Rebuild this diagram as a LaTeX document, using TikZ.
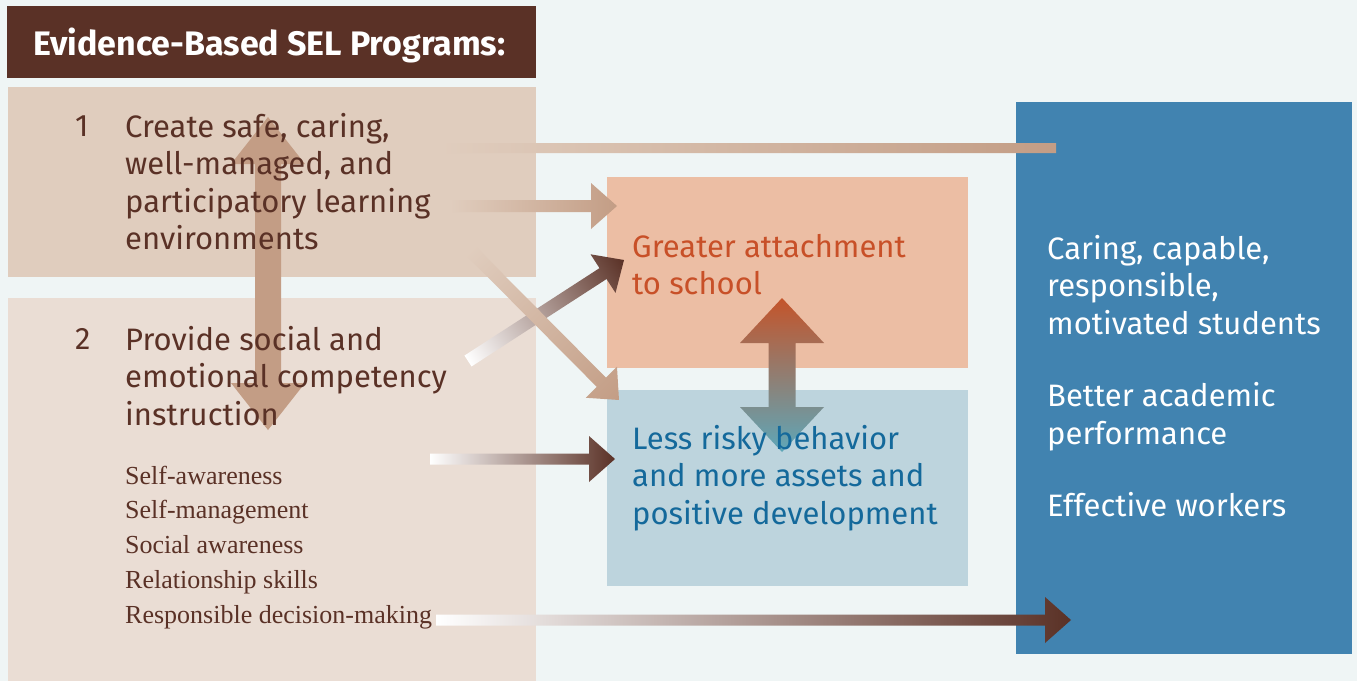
\documentclass[tikz,border=0pt]{standalone}
\usepackage{fontspec}
\setmainfont{Fira Sans}
\newfontfamily\listfont{Liberation Serif}
\usetikzlibrary{calc}

\definecolor{pagebg}{HTML}{EFF5F5}
\definecolor{selbrown}{HTML}{5A3126}
\definecolor{envfill}{HTML}{E0CDBE}
\definecolor{skillfill}{HTML}{EADDD4}
\definecolor{attachfill}{HTML}{ECBEA4}
\definecolor{attachtext}{HTML}{C85028}
\definecolor{behavefill}{HTML}{BDD4DD}
\definecolor{behavetext}{HTML}{14699B}
\definecolor{outfill}{HTML}{4183B0}
\definecolor{armtan}{HTML}{C39D85}
\definecolor{linkorange}{HTML}{C4542A}
\definecolor{linkteal}{HTML}{5EA7B9}

\newcommand\dinsize{\fontsize{31}{37.5}\selectfont}

% angle and length from #1 to #2
\newcommand\measure[2]{%
  \path let \p1=(#1), \p2=(#2) in
    \pgfextra{%
      \pgfmathsetmacro\fwang{atan2((\y2)-(\y1),(\x2)-(\x1))}%
      \pgfmathsetmacro\fwlen{veclen((\x2)-(\x1),(\y2)-(\y1))}%
      \xdef\fwang{\fwang}\xdef\fwlen{\fwlen}%
      \xdef\fwx{\x1}\xdef\fwy{\y1}};}

% tail, tip, tail colour, tip colour, shaft half width, head half width, head length
\newcommand\flowarrow[7]{%
  \measure{#1}{#2}
  \begin{scope}[transform canvas={shift={(\fwx,\fwy)},rotate=\fwang}]
    \shade[left color=#3,middle color=#4!80!#3,right color=#4]
      (0,-#5) -- ({\fwlen-#7},-#5) -- ({\fwlen-#7},-#6) -- (\fwlen,0)
      -- ({\fwlen-#7},#6) -- ({\fwlen-#7},#5) -- (0,#5) -- cycle;
  \end{scope}}

% one tip, other tip, colours, shaft half width, head half width, head length
\newcommand\twoway[7]{%
  \measure{#1}{#2}
  \begin{scope}[transform canvas={shift={(\fwx,\fwy)},rotate=\fwang}]
    \shade[left color=#3,right color=#4]
      (0,0) -- (#7,-#6) -- (#7,-#5) -- ({\fwlen-#7},-#5) -- ({\fwlen-#7},-#6)
      -- (\fwlen,0) -- ({\fwlen-#7},#6) -- ({\fwlen-#7},#5) -- (#7,#5)
      -- (#7,#6) -- cycle;
  \end{scope}}

\begin{document}
\begin{tikzpicture}[
x=1pt, y=-1pt,
panel/.style={inner sep=0pt, anchor=north west},
blurb/.style={font=\dinsize, inner sep=0pt, anchor=north west, align=left},
skill/.style={font=\listfont\fontsize{26}{30}\selectfont, text=selbrown,
  inner sep=0pt, anchor=base west}
]
\useasboundingbox (0,0) rectangle (1357,681);
\fill[pagebg] (0,0) rectangle (1357,681);

% panels
\node[panel, fill=selbrown, minimum width=529pt, minimum height=72pt] (title) at (7,6) {};
\node[panel, fill=envfill, minimum width=528pt, minimum height=190pt] (envbox) at (8,87) {};
\node[panel, fill=skillfill, minimum width=528pt, minimum height=383pt] (skillbox) at (8,298) {};
\node[panel, fill=attachfill, minimum width=361pt, minimum height=191pt] (attach) at (607,177) {};
\node[panel, fill=behavefill, minimum width=361pt, minimum height=196pt] (behave) at (607,390) {};
\node[panel, fill=outfill, minimum width=336pt, minimum height=552pt] (outcome) at (1016,102) {};

% two-way links
\coordinate (linkup) at (268,117);
\coordinate (linkdown) at (268,430);
\coordinate (schoolup) at (782,298);
\coordinate (schooldown) at (782,452);
\twoway{linkup}{linkdown}{armtan}{armtan}{13}{37}{47}
\twoway{schoolup}{schooldown}{linkorange}{linkteal}{13.5}{42}{45}

% texts
\node[anchor=base west, inner sep=0pt, text=white,
  font=\fontsize{34}{40}\selectfont\bfseries] (titletext) at (33,55)
  {Evidence-Based SEL Programs:};
\node[anchor=base west, inner sep=0pt, text=selbrown, font=\dinsize] (one) at (75,136) {1};
\node[blurb, text=selbrown] (envtext) at (125,113)
  {Create safe, caring,\\well-managed, and\\participatory learning\\environments};
\node[anchor=base west, inner sep=0pt, text=selbrown, font=\dinsize] (two) at (75,349) {2};
\node[blurb, text=selbrown] (skilltext) at (125,326)
  {Provide social and\\emotional competency\\instruction};
\foreach \skillname [count=\i] in {Self-awareness, Self-management,
    Social awareness, Relationship skills, Responsible decision-making}
  \node[skill] (skill\i) at (125,{484+34.75*(\i-1)}) {\skillname};
\node[blurb, text=attachtext] (attachtext) at (632,234)
  {Greater attachment\\to school};
\node[blurb, text=behavetext] (behavetext) at (632,425)
  {Less risky behavior\\and more assets and\\positive development};
\node[blurb, text=white] (outtext) at (1047,235)
  {Caring, capable,\\responsible,\\motivated students\\[35pt]Better academic\\performance\\[35pt]Effective workers};

% flows
\coordinate (envline) at (440,148);
\coordinate (outline) at (1056,148);
\coordinate (envtail) at (450,206);
\coordinate (attachtip) at (617,206);
\coordinate (envdiag) at (470,250);
\coordinate (behavetip) at (619,400);
\coordinate (skilldiag) at (468,361);
\coordinate (attachtip2) at (624,260);
\coordinate (skilltail) at (430,459);
\coordinate (behavetip2) at (615,459);
\coordinate (listtail) at (436,620);
\coordinate (outtip) at (1071,620);

\flowarrow{envline}{outline}{envfill}{armtan}{5}{5}{0}
\flowarrow{envtail}{attachtip}{envfill}{armtan}{6}{23}{26}
\flowarrow{skilldiag}{attachtip2}{white}{selbrown}{6.5}{23}{25}
\flowarrow{envdiag}{behavetip}{envfill}{armtan}{6.5}{22}{25}
\flowarrow{skilltail}{behavetip2}{white}{selbrown}{5.5}{23}{26}
\flowarrow{listtail}{outtip}{white}{selbrown}{5.5}{23}{26}
\end{tikzpicture}
\end{document}
